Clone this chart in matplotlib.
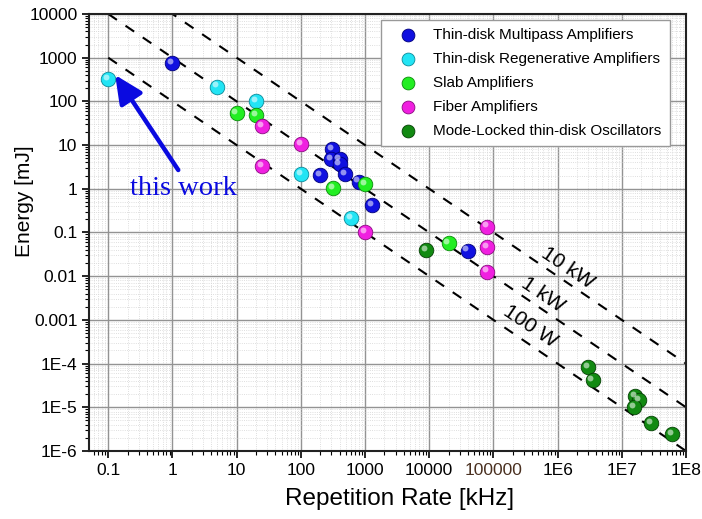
import numpy as np
import matplotlib
matplotlib.use("Agg")
import matplotlib.pyplot as plt
from matplotlib.ticker import FixedLocator, FixedFormatter, LogLocator, NullFormatter
from matplotlib.transforms import offset_copy

plt.rcParams['font.family'] = ['Liberation Sans', 'DejaVu Sans']

# ---------------- data ----------------
multipass_rate = [1, 200, 305, 298, 401, 401, 492, 793, 1280, 39500]
multipass_energy = [745, 2.07, 8.15, 4.81, 4.81, 3.64, 2.15, 1.46, 0.426, 0.0384]

regen_rate = [0.1, 5, 20, 100, 600]
regen_energy = [321, 217, 102, 2.18, 0.211]

slab_rate = [10, 20, 320, 1000, 20000]
slab_energy = [55, 48.9, 1.03, 1.29, 0.0566]

fiber_rate = [25, 25, 100, 1000, 80000, 80000, 80000]
fiber_energy = [27.4, 3.33, 10.4, 0.104, 0.136, 0.0458, 0.0127]

osc_rate = [9000, 3.0e6, 3.5e6, 1.62e7, 1.87e7, 1.56e7, 2.87e7, 6.0e7]
osc_energy = [0.0398, 8.2e-5, 4.2e-5, 1.81e-5, 1.47e-5, 1.03e-5, 4.3e-6, 2.41e-6]

series = [
    ("Thin-disk Multipass Amplifiers", multipass_rate, multipass_energy, "#1010e0", "#00007a"),
    ("Thin-disk Regenerative Amplifiers", regen_rate, regen_energy, "#22e4f4", "#0a8a9a"),
    ("Slab Amplifiers", slab_rate, slab_energy, "#22ee22", "#0a8a0a"),
    ("Fiber Amplifiers", fiber_rate, fiber_energy, "#f020e0", "#8a0a80"),
    ("Mode-Locked thin-disk Oscillators", osc_rate, osc_energy, "#128a12", "#054005"),
]

power_levels_W = [100, 1000, 10000]
power_labels = ["100 W", "1 kW", "10 kW"]
power_label_rate = [3.74e5, 5.97e5, 1.41e6]
power_label_energy = [7.2e-4, 3.72e-3, 0.0154]

x_ticks = [0.1, 1, 10, 100, 1000, 1e4, 1e5, 1e6, 1e7, 1e8]
x_ticklabels = ["0.1", "1", "10", "100", "1000", "10000", "100000", "1E6", "1E7", "1E8"]
y_ticks = [1e4, 1e3, 100, 10, 1, 0.1, 0.01, 0.001, 1e-4, 1e-5, 1e-6]
y_ticklabels = ["10000", "1000", "100", "10", "1", "0.1", "0.01", "0.001", "1E-4", "1E-5", "1E-6"]

# ---------------- figure ----------------
W, H = 702, 519
fig = plt.figure(figsize=(W / 100, H / 100), dpi=100)
L, R, T, B = 89.3, 686, 14, 451
ax = fig.add_axes([L / W, 1 - B / H, (R - L) / W, (B - T) / H])
ax.set_xscale('log')
ax.set_yscale('log')
ax.set_xlim(10 ** -1.296, 1e8)
ax.set_ylim(1e-6, 1e4)

# grid
ax.grid(which='major', color='#939393', linewidth=1.0, linestyle='-', zorder=0)
ax.grid(which='minor', color='#d4d4d4', linewidth=0.6, linestyle=':', zorder=0)
ax.set_axisbelow(True)

# power lines
f_line = np.array([0.1, 1e8])
for P in power_levels_W:
    ax.plot(f_line, P / f_line, color='black', linestyle=(0, (5, 5)), linewidth=1.5, zorder=2)
for lab, fx, ey in zip(power_labels, power_label_rate, power_label_energy):
    ax.text(fx, ey, lab, rotation=-34, ha='center', va='center', fontsize=15, zorder=3)

# sphere-like markers
hl = offset_copy(ax.transData, fig=fig, x=-2.2, y=2.2, units='dots')
for name, xs, ys, c, ec in series:
    ax.scatter(xs, ys, s=110, color=c, edgecolors=ec, linewidths=0.6, zorder=4, label=name)
    ax.scatter(xs, ys, s=18, color='white', alpha=0.55, linewidths=0, zorder=5, transform=hl)

# ticks
ax.xaxis.set_major_locator(FixedLocator(x_ticks))
ax.xaxis.set_major_formatter(FixedFormatter(x_ticklabels))
ax.yaxis.set_major_locator(FixedLocator(y_ticks))
ax.yaxis.set_major_formatter(FixedFormatter(y_ticklabels))
ax.xaxis.set_minor_locator(LogLocator(base=10, subs=np.arange(2, 10), numticks=30))
ax.yaxis.set_minor_locator(LogLocator(base=10, subs=np.arange(2, 10), numticks=30))
ax.xaxis.set_minor_formatter(NullFormatter())
ax.yaxis.set_minor_formatter(NullFormatter())
ax.tick_params(which='major', direction='out', length=5, width=1.2, labelsize=12.5, colors='black')
ax.tick_params(which='minor', direction='out', length=3, width=0.8)
for lbl in ax.get_xticklabels():
    if lbl.get_text() == "100000":
        lbl.set_color('#4a3020')

for sp in ax.spines.values():
    sp.set_linewidth(1.5)
    sp.set_color('#222222')

ax.set_xlabel("Repetition Rate [kHz]", fontsize=17.5, va='center')
ax.xaxis.set_label_coords((399.5 - L) / (R - L), -(499 - B) / (B - T))
ax.set_ylabel("Energy [mJ]", fontsize=15, va='center')
ax.yaxis.set_label_coords((25 - L) / (R - L), 1 - (201 - T) / (B - T))

# legend
leg = ax.legend(loc='upper left', bbox_to_anchor=((381 - L) / (R - L), 1 - (20 - T) / (B - T)),
                borderaxespad=0, fontsize=11, frameon=True, fancybox=False,
                edgecolor='#999999', framealpha=1, labelspacing=0.64, handletextpad=0.42,
                borderpad=0.55, handlelength=2.45, scatterpoints=1)
leg.get_frame().set_linewidth(1.0)
leg.set_zorder(10)
for h in leg.legend_handles:
    h.set_sizes([85])

# "this work" annotation
ax.annotate("", xy=(0.128, 402), xytext=(1.23, 2.69),
            arrowprops=dict(arrowstyle='-|>,head_length=1.7,head_width=0.8', color='#0a0ae0',
                            lw=3.2, shrinkA=0, shrinkB=0), zorder=6)
ax.text(1.5, 1.04, "this work", color='#0a0ae0', fontsize=20.5, ha='center', va='center',
        family=['Liberation Serif', 'DejaVu Serif'], zorder=6)

fig.savefig("out.png", dpi=100)
